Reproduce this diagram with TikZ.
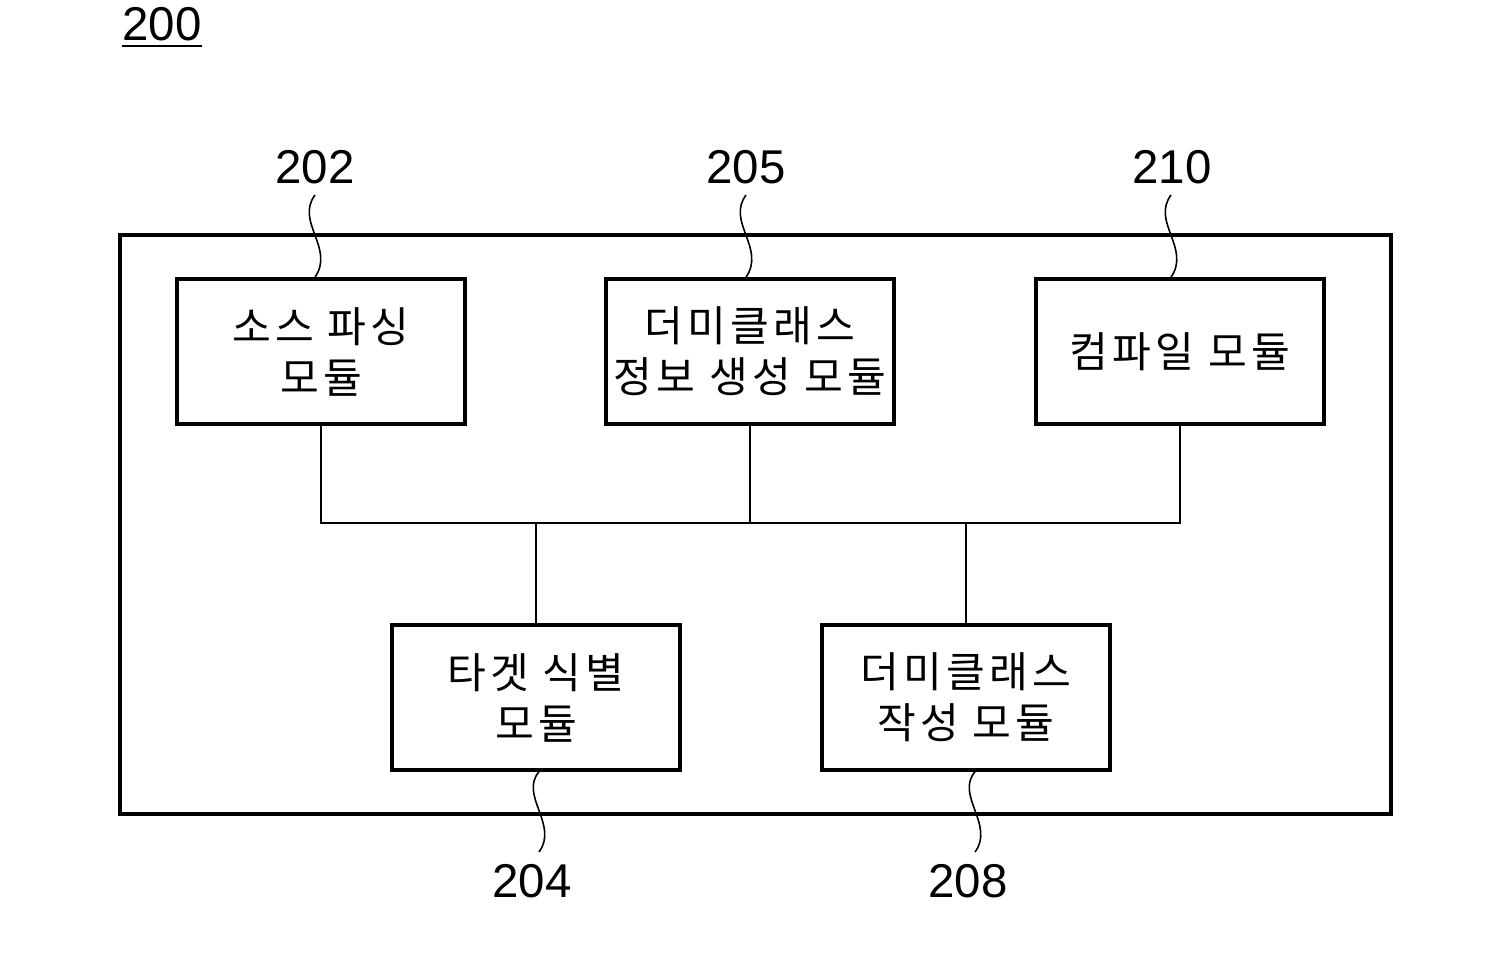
\documentclass[tikz,border=0pt]{standalone}
\usepackage{fontspec}
\setmainfont{Liberation Sans}
\newfontfamily\kr[LetterSpace=10]{Noto Sans CJK KR}
\begin{document}
\begin{tikzpicture}[x=0.02cm,y=-0.02cm,
  mod/.style={draw,line width=2pt,minimum width=5.76cm,minimum height=2.9cm,inner sep=0pt,align=center,font=\kr\fontsize{24}{29}\selectfont},
  num/.style={font=\fontsize{27}{30}\selectfont,inner sep=0pt},
  conn/.style={line width=1.4pt},
  lead/.style={line width=0.9pt}]
\useasboundingbox (0,0) rectangle (1506,978);
\node[num,anchor=base] (n200) at (162,40) {200};
\draw[line width=1.6pt] (122,46) -- (202,46);
\node[draw,line width=2pt,minimum width=25.42cm,minimum height=11.58cm,inner sep=0pt] (outer) at (755.5,524.5) {};
\node[mod] (b202) at (321,351.5) {소스 파싱\\모듈};
\node[mod] (b205) at (750,351.5) {더미클래스\\정보 생성 모듈};
\node[mod] (b210) at (1180,351.5) {컴파일 모듈};
\node[mod] (b204) at (536,697.5) {타겟 식별\\모듈};
\node[mod] (b208) at (966,697.5) {더미클래스\\작성 모듈};
\coordinate (bus) at (0,523);
\draw[conn] (b202.south) -- (b202.south |- bus) -- (b210.south |- bus) -- (b210.south);
\draw[conn] (b205.south) -- (b205.south |- bus);
\draw[conn] (b204.north) -- (b204.north |- bus);
\draw[conn] (b208.north) -- (b208.north |- bus);
\node[num,anchor=base] (n202) at (315,183) {202};
\node[num,anchor=base] (n205) at (746,183) {205};
\node[num,anchor=base] (n210) at (1172,183) {210};
\node[num,anchor=base] (n204) at (532,897) {204};
\node[num,anchor=base] (n208) at (968,897) {208};
\coordinate (t202) at (315,195);
\coordinate (t205) at (746,195);
\coordinate (t210) at (1171,195);
\coordinate (t204) at (539,852);
\coordinate (t208) at (975,852);
\draw[lead] (t202) .. controls (295,222) and (335,248) .. (b202.north -| t202);
\draw[lead] (t205) .. controls (726,222) and (766,248) .. (b205.north -| t205);
\draw[lead] (t210) .. controls (1151,222) and (1191,248) .. (b210.north -| t210);
\draw[lead] (b204.south -| t204) .. controls (519,795) and (559,825) .. (t204);
\draw[lead] (b208.south -| t208) .. controls (955,795) and (995,825) .. (t208);
\end{tikzpicture}
\end{document}
